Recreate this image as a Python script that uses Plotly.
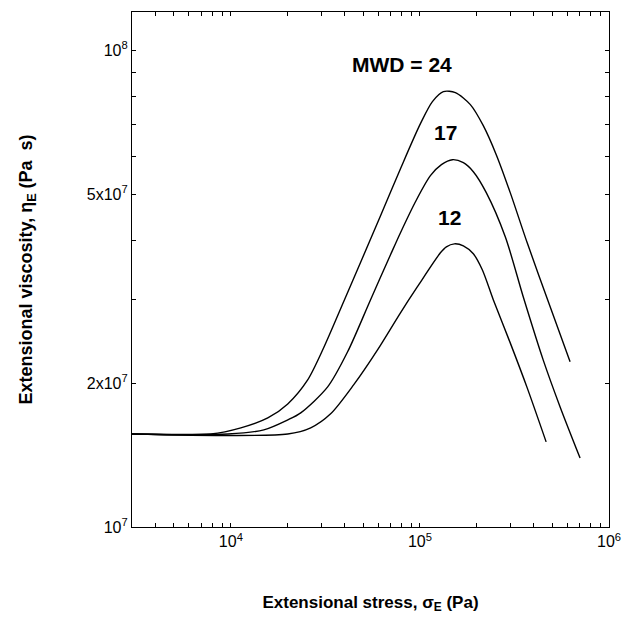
import math
import plotly.graph_objects as go

# ---- data (stress in Pa, viscosity in Pa s) ----
stress_24 = [3000, 7844, 11290, 15680, 19990, 25480, 30960, 39480, 49720, 61890,
             78900, 100600, 116400, 133000, 153900, 184800, 216300, 253300, 300300,
             369300, 488400, 622600]
visc_24 = [1.568e7, 1.568e7, 1.615e7, 1.694e7, 1.813e7, 2.036e7, 2.378e7, 2.970e7,
           3.674e7, 4.502e7, 5.651e7, 7.025e7, 7.815e7, 8.201e7, 8.162e7, 7.702e7,
           6.957e7, 6.047e7, 5.033e7, 3.949e7, 2.899e7, 2.222e7]

stress_17 = [3000, 9643, 14940, 19990, 23410, 32500, 41440, 54810, 69880, 78900,
             94700, 113600, 129900, 148500, 169700, 191600, 224300, 282700, 351800,
             448500, 551300, 703000]
visc_17 = [1.568e7, 1.568e7, 1.599e7, 1.678e7, 1.736e7, 1.968e7, 2.332e7, 3.000e7,
           3.727e7, 4.147e7, 4.817e7, 5.463e7, 5.762e7, 5.902e7, 5.817e7, 5.569e7,
           5.033e7, 4.067e7, 3.043e7, 2.243e7, 1.787e7, 1.396e7]

stress_12 = [3000, 19990, 26440, 33700, 44580, 59670, 78900, 97000, 128300, 138000,
             152100, 169700, 191600, 213700, 244300, 300300, 369300, 465000]
visc_12 = [1.568e7, 1.568e7, 1.615e7, 1.728e7, 1.987e7, 2.354e7, 2.816e7, 3.194e7,
           3.763e7, 3.874e7, 3.930e7, 3.893e7, 3.745e7, 3.467e7, 3.000e7, 2.435e7,
           1.959e7, 1.509e7]

series_names = ["MWD = 24", "17", "12"]
label_x = [80700, 136500, 143200]
label_y = [9.35e7, 6.73e7, 4.46e7]

x_major = [1e4, 1e5, 1e6]
x_major_text = ["10<sup>4</sup>", "10<sup>5</sup>", "10<sup>6</sup>"]
y_major = [1e7, 2e7, 5e7, 1e8]
y_major_text = ["10<sup>7</sup>", "2x10<sup>7</sup>", "5x10<sup>7</sup>", "10<sup>8</sup>"]


# ---- unlabelled minor ticks: every 1..9 x 10^d that is not a labelled tick ----
def minor_ticks(lo_dec, hi_dec, majors):
    vals = []
    for d in range(lo_dec, hi_dec + 1):
        for m in range(1, 10):
            v = m * 10 ** d
            if not any(abs(v - mv) / mv < 1e-9 for mv in majors):
                vals.append(v)
    return vals


x_minor = minor_ticks(3, 6, x_major)
y_minor = minor_ticks(7, 8, y_major)

FONT = "Liberation Sans, Arial, sans-serif"

fig = go.Figure()
for xs, ys, name in [(stress_24, visc_24, series_names[0]),
                     (stress_17, visc_17, series_names[1]),
                     (stress_12, visc_12, series_names[2])]:
    fig.add_trace(go.Scatter(x=xs, y=ys, mode="lines", name=name,
                             line=dict(color="black", width=1.4, shape="spline", smoothing=0.8),
                             showlegend=False))

for name, lx, ly in zip(series_names, label_x, label_y):
    fig.add_annotation(x=math.log10(lx), y=math.log10(ly),
                       xref="x", yref="y", text="<b>%s</b>" % name, showarrow=False,
                       font=dict(family=FONT, size=21, color="black"))

axis_common = dict(type="log", tickmode="array",
                   ticks="inside", ticklen=4, tickcolor="black", tickwidth=1,
                   showline=True, linecolor="black", linewidth=1.2, mirror="allticks",
                   showgrid=False, zeroline=False,
                   tickfont=dict(family=FONT, size=16, color="black"))

fig.update_xaxes(range=[3.477, 6.0], tickvals=x_major, ticktext=x_major_text,
                 minor=dict(tickmode="array", tickvals=x_minor, ticks="inside",
                            ticklen=4, tickcolor="black", tickwidth=1, showgrid=False),
                 title=dict(text="<b>Extensional stress, σ<sub>E</sub> (Pa)</b>",
                            font=dict(family=FONT, size=17, color="black"), standoff=46),
                 **axis_common)
fig.update_yaxes(range=[7.0, 8.081], tickvals=y_major, ticktext=y_major_text,
                 minor=dict(tickmode="array", tickvals=y_minor, ticks="inside",
                            ticklen=4, tickcolor="black", tickwidth=1, showgrid=False),
                 title=dict(text="<b>Extensional viscosity, η<sub>E</sub> (Pa  s)</b>",
                            font=dict(family=FONT, size=18, color="black"), standoff=49),
                 **axis_common)

fig.update_layout(width=632, height=615,
                  margin=dict(l=124, r=31, t=4, b=96, autoexpand=False),
                  paper_bgcolor="white", plot_bgcolor="white")

fig.write_html("out.html")
